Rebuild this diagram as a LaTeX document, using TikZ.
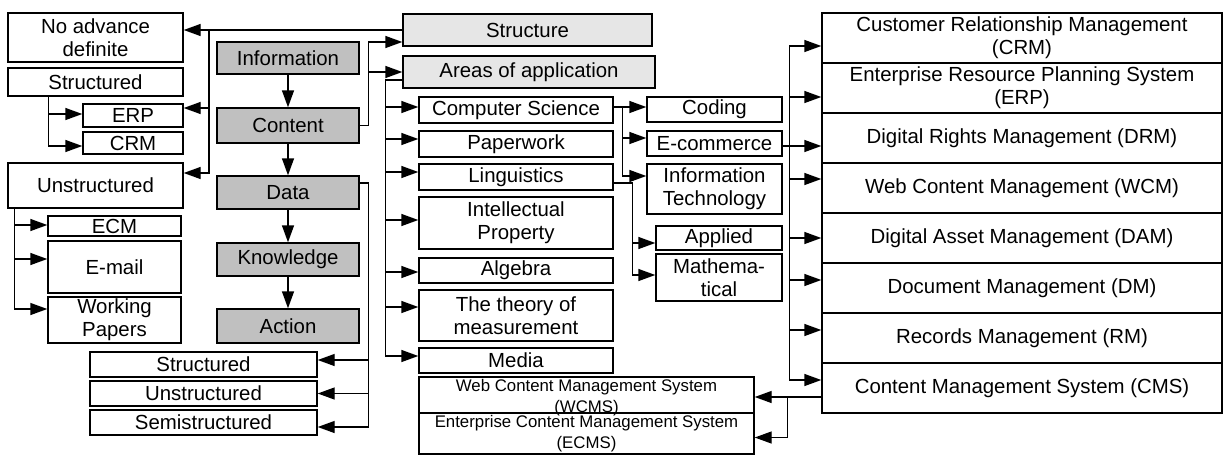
\documentclass[tikz,border=0pt]{standalone}
\usepackage{fontspec}
\setmainfont{Liberation Sans}
\usetikzlibrary{arrows.meta}
\definecolor{chaingray}{HTML}{C0C0C0}
\definecolor{headgray}{HTML}{E6E6E6}
\tikzset{
  box/.style={draw, line width=.7pt, align=center, inner sep=0pt,
    font=\fontsize{10.2}{11.5}\selectfont},
  sz/.style 2 args={minimum width=#1*0.5pt, minimum height=#2*0.5pt},
  chainbox/.style={box, fill=chaingray},
  headbox/.style={box, fill=headgray},
  smalltext/.style={align=center, inner sep=0pt,
    font=\fontsize{8.4}{10.5}\selectfont},
  arr/.style={-{Triangle[length=8.5pt,width=6pt]}, line width=.7pt},
  wire/.style={line width=.7pt},
}
\begin{document}
\begin{tikzpicture}[x=0.5pt, y=-0.5pt]
      \useasboundingbox (0,0) rectangle (1224,455);
      % left column
      \node[box, sz={175}{49}] (noadv) at (95.5,37.5) {No advance\\definite};
      \node[box, sz={175}{28}] (structl) at (95.5,82) {Structured};
      \node[box, sz={100}{23}] (erp) at (133,115.5) {ERP};
      \node[box, sz={100}{22}] (crm) at (133,143) {CRM};
      \node[box, sz={175}{45}] (unstr) at (95.5,185.5) {Unstructured};
      \node[box, sz={133}{20}] (ecm) at (114.5,226) {ECM};
      \node[box, sz={133}{52}] (email) at (114.5,267) {E-mail};
      \node[box, sz={133}{46}] (wpapers) at (114.5,320) {Working\\Papers};
      % main chain
      \node[chainbox, sz={142}{32}] (info) at (288,58) {Information};
      \node[chainbox, sz={142}{35}] (content) at (288,125.5) {Content};
      \node[chainbox, sz={142}{33}] (data) at (288,192.5) {Data};
      \node[chainbox, sz={142}{33}] (knowl) at (288,259.5) {Knowledge};
      \node[chainbox, sz={142}{34}] (action) at (288,326) {Action};
      % kinds of data
      \node[box, sz={227}{25}] (dstr) at (203.5,364.5) {Structured};
      \node[box, sz={227}{25}] (dunstr) at (203.5,393.5) {Unstructured};
      \node[box, sz={227}{25}] (dsemi) at (203.5,422.5) {Semistructured};
      % heads
      \node[headbox, sz={249}{32}] (structure) at (527.5,30) {Structure};
      \node[headbox, sz={252}{32}] (areas) at (529,72) {Areas of application};
      % areas of application
      \node[box, sz={194}{26}] (cs) at (516,110) {Computer Science};
      \node[box, sz={194}{26}] (paper) at (516,144) {Paperwork};
      \node[box, sz={194}{26}] (ling) at (516,177) {Linguistics};
      \node[box, sz={194}{52}] (ip) at (516,223) {Intellectual\\Property};
      \node[box, sz={194}{25}] (algebra) at (516,270.5) {Algebra};
      \node[box, sz={194}{51}] (theory) at (516,315.5) {The theory of\\measurement};
      \node[box, sz={194}{25}] (media) at (516,360.5) {Media};
      \node[box, sz={135}{25}] (coding) at (714.5,109.5) {Coding};
      \node[box, sz={135}{25}] (ecom) at (714.5,143.5) {E-commerce};
      \node[box, sz={135}{50}] (it) at (714.5,189) {Information\\Technology};
      \node[box, sz={126}{24}] (applied) at (719,238) {Applied};
      \node[box, sz={126}{47}] (math) at (719,277.5) {Mathema-\\tical};
      % systems
      \node[box, sz={400}{50}] (rcrm) at (1022,38) {Customer Relationship Management\\(CRM)};
      \node[box, sz={400}{50}] (rerp) at (1022,88) {Enterprise Resource Planning System\\(ERP)};
      \node[box, sz={400}{50}] (rdrm) at (1022,138) {Digital Rights Management (DRM)};
      \node[box, sz={400}{50}] (rwcm) at (1022,188) {Web Content Management (WCM)};
      \node[box, sz={400}{50}] (rdam) at (1022,238) {Digital Asset Management (DAM)};
      \node[box, sz={400}{50}] (rdm) at (1022,288) {Document Management (DM)};
      \node[box, sz={400}{50}] (rrm) at (1022,338) {Records Management (RM)};
      \node[box, sz={400}{50}] (rcms) at (1022,388) {Content Management System (CMS)};
      \node[box, sz={335}{36}] (wcms) at (586.5,395) {};
      \node[smalltext] (wcmstext) at ([yshift=-1.2pt]wcms.center) {Web Content Management System\\(WCMS)};
      \node[box, smalltext, sz={335}{41}] (ecms) at (586.5,433.5) {Enterprise Content Management System\\(ECMS)};
      % bus points
      \coordinate (sbus) at (209,30);
      \coordinate (contbus) at ([xshift=4.5pt]content.east);
      \coordinate (databus) at ([xshift=4.5pt,yshift=4.75pt]data.east);
      \coordinate (abus) at ([xshift=-8.5pt,yshift=-4pt]areas.west);
      \coordinate (csbus) at ([xshift=4.5pt,yshift=1.5pt]cs.east);
      \coordinate (lbus) at ([xshift=9.5pt,yshift=-3pt]ling.east);
      \coordinate (rbus) at ([xshift=3.5pt,yshift=-1.25pt]ecom.east);
      \coordinate (cmsbus) at ([xshift=-17pt,yshift=-4.5pt]rcms.west);
      \begin{scope}[arr]
        \draw (info) -- (content);
        \draw (content) -- (data);
        \draw (data) -- (knowl);
        \draw (knowl) -- (action);
        \draw (structure.west) -- (structure.west -| noadv.east);
        \draw (sbus) |- ([yshift=3.75pt]erp.east);
        \draw (sbus) |- ([yshift=6.25pt]unstr.east);
        \draw ([xshift=20.5pt]structl.south west) |- ([yshift=0.75pt]erp.west);
        \draw ([xshift=20.5pt]structl.south west) |- ([yshift=-1.5pt]crm.west);
        \draw ([xshift=3.5pt]unstr.south west) |- ([yshift=0.5pt]ecm.west);
        \draw ([xshift=3.5pt]unstr.south west) |- ([yshift=4pt]email.west);
        \draw ([xshift=3.5pt]unstr.south west) |- ([yshift=5.5pt]wpapers.west);
        \draw (content.east) -- (contbus) |- ([yshift=-6pt]structure.west);
        \draw (contbus) |- (areas.west);
        \foreach \n/\s in {dstr/2.25pt, dunstr/0pt, dsemi/-2.25pt}
          \draw (databus) |- ([yshift=\s]\n.east);
        \foreach \n/\s in {cs/1.5pt, paper/2.5pt, ling/2.5pt, ip/1.5pt,
                           algebra/-0.75pt, theory/4.25pt, media/2.25pt}
          \draw (abus) |- ([yshift=\s]\n.west);
        \draw ([yshift=1.5pt]cs.east) -- ([yshift=1.5pt]cs.east -| coding.west);
        \draw (csbus) |- ([yshift=2.75pt]ecom.west);
        \draw (csbus) |- ([yshift=6.5pt]it.west);
        \draw (lbus) |- ([yshift=-2.5pt]applied.west);
        \draw (lbus) |- ([yshift=1.25pt]math.west);
        \foreach \n/\s in {rcrm/-4pt, rerp/-4.5pt, rdrm/-4pt, rwcm/4.5pt,
                           rdam/0pt, rdm/4pt, rrm/4pt, rcms/4pt}
          \draw (rbus) |- ([yshift=\s]\n.west);
        \draw ([yshift=-4.5pt]rcms.west) -- (cmsbus -| wcms.east);
        \draw (cmsbus) |- ([yshift=-2pt]ecms.east);
      \end{scope}
      \draw[wire] ([yshift=4.75pt]data.east) -- (databus);
      \draw[wire] ([yshift=-4pt]areas.west) -- (abus);
      \draw[wire] ([yshift=-3pt]ling.east) -- (lbus);
      \draw[wire] ([yshift=-1.25pt]ecom.east) -- (rbus);
    \end{tikzpicture}
\end{document}
